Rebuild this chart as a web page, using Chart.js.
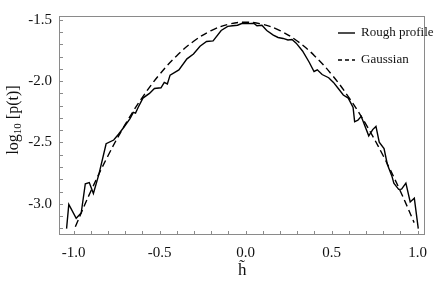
<!DOCTYPE html>
<html><head><meta charset="utf-8">
<script src="https://cdn.jsdelivr.net/npm/chart.js@4.4.1/dist/chart.umd.min.js"></script>
<style>html,body{margin:0;padding:0;background:#fff}#w{width:436px;height:286px;position:relative}</style>
</head><body><div id="w"><canvas id="c"></canvas></div>
<script>
const seriesNames = ["Rough profile", "Gaussian"];
const roughX = [-1.041,-1.028,-0.985,-0.956,-0.932,-0.909,-0.885,-0.852,-0.811,-0.767,-0.739,-0.710,-0.672,-0.653,-0.640,-0.625,-0.597,-0.559,-0.530,-0.492,-0.473,-0.455,-0.439,-0.388,-0.341,-0.303,-0.265,-0.227,-0.189,-0.142,-0.104,-0.076,-0.047,-0.019,0.019,0.047,0.066,0.095,0.123,0.161,0.189,0.218,0.246,0.270,0.294,0.331,0.369,0.398,0.417,0.445,0.483,0.511,0.540,0.568,0.597,0.625,0.634,0.653,0.672,0.691,0.716,0.739,0.758,0.777,0.805,0.824,0.852,0.862,0.890,0.907,0.932,0.957,0.981,1.004];
const roughY = [-3.202,-3.005,-3.118,-3.075,-2.836,-2.826,-2.915,-2.754,-2.510,-2.480,-2.433,-2.380,-2.305,-2.254,-2.260,-2.215,-2.138,-2.100,-2.060,-2.054,-2.010,-2.023,-1.951,-1.908,-1.818,-1.779,-1.715,-1.677,-1.672,-1.587,-1.554,-1.549,-1.544,-1.528,-1.531,-1.528,-1.549,-1.544,-1.587,-1.625,-1.644,-1.652,-1.664,-1.660,-1.690,-1.754,-1.844,-1.921,-1.908,-1.946,-1.972,-2.010,-2.062,-2.113,-2.138,-2.215,-2.331,-2.318,-2.287,-2.356,-2.446,-2.395,-2.369,-2.498,-2.549,-2.677,-2.780,-2.831,-2.882,-2.880,-2.831,-2.985,-2.954,-3.202];
const gaussX = [-0.99,-0.9,-0.8,-0.7,-0.6,-0.5,-0.4,-0.3,-0.2,-0.1,0.0,0.1,0.2,0.3,0.4,0.5,0.6,0.7,0.8,0.9,0.98];
const gaussY = [-3.186,-2.897,-2.608,-2.353,-2.132,-1.945,-1.792,-1.673,-1.588,-1.537,-1.520,-1.537,-1.588,-1.673,-1.792,-1.945,-2.132,-2.353,-2.608,-2.897,-3.153];
const xMajorTicks = [-1.0,-0.5,0.0,0.5,1.0];
const yMajorTicks = [-3.0,-2.5,-2.0,-1.5];
const xMinorTicks = [-1.0,-0.9,-0.8,-0.7,-0.6,-0.5,-0.4,-0.3,-0.2,-0.1,0.0,0.1,0.2,0.3,0.4,0.5,0.6,0.7,0.8,0.9,1.0];
const yMinorTicks = [-3.2,-3.1,-3.0,-2.9,-2.8,-2.7,-2.6,-2.5,-2.4,-2.3,-2.2,-2.1,-2.0,-1.9,-1.8,-1.7,-1.6,-1.5];
const xTitle = "h\u0303";
const yTitleParts = ["log", "10", " [p(t)]"];

const FONT = "'Liberation Serif', 'Times New Roman', serif";
const FRAME = "#8a8a8a";

const decor = {
  id: "decor",
  afterDatasetsDraw(chart) {
    const ctx = chart.ctx, a = chart.chartArea;
    const xs = chart.scales.x, ys = chart.scales.y;
    ctx.save();
    ctx.strokeStyle = FRAME; ctx.lineWidth = 1;
    ctx.strokeRect(Math.round(a.left) + 0.5, Math.round(a.top) + 0.5, Math.round(a.right - a.left) - 1, Math.round(a.bottom - a.top) - 1);
    ctx.beginPath();
    xMinorTicks.forEach(v => {
      const px = Math.round(xs.getPixelForValue(v)) + 0.5;
      ctx.moveTo(px, a.bottom); ctx.lineTo(px, a.bottom - 4);
    });
    yMinorTicks.forEach(v => {
      const py = Math.round(ys.getPixelForValue(v)) + 0.5;
      ctx.moveTo(a.left, py); ctx.lineTo(a.left + 4, py);
    });
    ctx.stroke();
    // legend
    const ds = chart.data.datasets;
    const lx0 = 338, lx1 = 355, tx = 361, ly = [33, 60];
    ds.forEach((d, i) => {
      ctx.strokeStyle = d.borderColor; ctx.lineWidth = d.borderWidth;
      ctx.setLineDash(d.borderDash ? [4, 3] : []);
      ctx.beginPath(); ctx.moveTo(lx0, ly[i]); ctx.lineTo(lx1, ly[i]); ctx.stroke();
      ctx.setLineDash([]);
      ctx.fillStyle = "#111"; ctx.font = "13px " + FONT;
      ctx.textBaseline = "middle"; ctx.textAlign = "left";
      ctx.fillText(d.label, tx, ly[i]);
    });
    // y title
    ctx.translate(13, 120);
    ctx.rotate(-Math.PI / 2);
    ctx.fillStyle = "#111"; ctx.textBaseline = "alphabetic"; ctx.textAlign = "left";
    const f1 = "16px " + FONT, f2 = "11px " + FONT;
    ctx.font = f1; const w0 = ctx.measureText(yTitleParts[0]).width;
    ctx.font = f2; const w1 = ctx.measureText(yTitleParts[1]).width;
    ctx.font = f1; const w2 = ctx.measureText(yTitleParts[2]).width;
    let x = -(w0 + w1 + w2) / 2;
    const base = 5;
    ctx.font = f1; ctx.fillText(yTitleParts[0], x, base); x += w0;
    ctx.font = f2; ctx.fillText(yTitleParts[1], x, base + 3); x += w1;
    ctx.font = f1; ctx.fillText(yTitleParts[2], x, base);
    ctx.restore();
  }
};

new Chart(document.getElementById("c"), {
  type: "scatter",
  data: {
    datasets: [
      { label: seriesNames[0], data: roughX.map((x, i) => ({x, y: roughY[i]})), showLine: true, borderColor: "#000", borderWidth: 1.4, pointRadius: 0, tension: 0, fill: false },
      { label: seriesNames[1], data: gaussX.map((x, i) => ({x, y: gaussY[i]})), showLine: true, borderColor: "#000", borderWidth: 1.4, borderDash: [7, 4], pointRadius: 0, tension: 0.4, fill: false }
    ]
  },
  options: {
    responsive: true, maintainAspectRatio: false, animation: false,
    layout: { padding: { top: 3, right: 2, left: 0, bottom: 0 } },
    plugins: { legend: { display: false }, tooltip: { enabled: false } },
    scales: {
      x: {
        type: "linear", min: -1.085, max: 1.045,
        grid: { display: false, drawTicks: false }, border: { display: false },
        afterBuildTicks: s => { s.ticks = xMajorTicks.map(v => ({ value: v })); },
        afterFit: s => { s.height = 51; },
        ticks: { padding: 9, color: "#111", font: { family: FONT, size: 15 }, maxRotation: 0, autoSkip: false, callback: v => v.toFixed(1) },
        title: { display: true, text: xTitle, color: "#111", font: { family: FONT, size: 17 }, padding: { top: 0, bottom: 5 } }
      },
      y: {
        type: "linear", min: -3.254, max: -1.469,
        grid: { display: false, drawTicks: false }, border: { display: false },
        afterBuildTicks: s => { s.ticks = yMajorTicks.map(v => ({ value: v })); },
        afterFit: s => { s.width = 59; },
        ticks: { padding: 7, color: "#111", font: { family: FONT, size: 15 }, autoSkip: false, callback: v => v.toFixed(1) },
        title: { display: false }
      }
    }
  },
  plugins: [decor]
});
</script>
</body></html>
